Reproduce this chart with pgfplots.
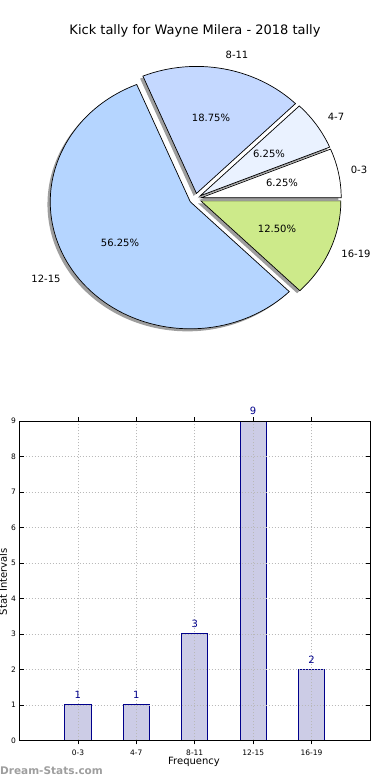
\documentclass[border=0pt]{standalone}
\usepackage{pgfplots}
\pgfplotsset{compat=1.18}
\usepackage{fontspec}
\setmainfont{DejaVu Sans}
\definecolor{pieB}{HTML}{EAF2FF}
\definecolor{pieC}{HTML}{C4D8FF}
\definecolor{pieD}{HTML}{B5D5FF}
\definecolor{pieE}{HTML}{CDEA8A}
\definecolor{barfill}{HTML}{CCCCE6}
\definecolor{baredge}{HTML}{00008B}
\definecolor{wm}{HTML}{9E9E9E}
% total count = 16 ; slice given by cumulative counts (from, to)
\newcommand{\pieshadow}[2]{%
  \pgfmathsetmacro\pa{22.5*#1}\pgfmathsetmacro\pb{22.5*#2}%
  \pgfmathsetmacro\pmid{(\pa+\pb)/2}%
  \pgfmathsetmacro\pox{0.043*cos(\pmid)-0.02}%
  \pgfmathsetmacro\poy{0.043*sin(\pmid)-0.02}%
  \edef\temp{\noexpand\fill[black!38] (axis cs:\pox,\poy) -- ++(\pa:140bp and 127bp) arc[start angle=\pa, end angle=\pb, x radius=140bp, y radius=127bp] -- cycle;}%
  \temp}
\newcommand{\pieslice}[3]{%
  \pgfmathsetmacro\pa{22.5*#1}\pgfmathsetmacro\pb{22.5*#2}%
  \pgfmathsetmacro\pmid{(\pa+\pb)/2}%
  \pgfmathsetmacro\pox{0.043*cos(\pmid)}%
  \pgfmathsetmacro\poy{0.043*sin(\pmid)}%
  \edef\temp{\noexpand\filldraw[fill=#3, draw=black, line width=0.7bp, line join=miter] (axis cs:\pox,\poy) -- ++(\pa:140bp and 127bp) arc[start angle=\pa, end angle=\pb, x radius=140bp, y radius=127bp] -- cycle;}%
  \temp}
\begin{document}
\begin{tikzpicture}
\useasboundingbox (0,0) rectangle (390bp,-780bp);
% ---------------- pie ----------------
\begin{axis}[at={(0bp,-380bp)}, anchor=south west, hide axis, clip=false,
  x=140bp, y=127bp, xmin=-1.395, xmax=1.391, ymin=-1.427, ymax=1.565]
\pieshadow{0}{1}
\pieshadow{1}{2}
\pieshadow{2}{5}
\pieshadow{5}{14}
\pieshadow{14}{16}
\pieslice{0}{1}{white}
\pieslice{1}{2}{pieB}
\pieslice{2}{5}{pieC}
\pieslice{5}{14}{pieD}
\pieslice{14}{16}{pieE}
\end{axis}
\node[font=\fontsize{13bp}{15bp}\selectfont, anchor=base] at (195bp,-34.3bp) {Kick tally for Wayne Milera - 2018 tally};
\begin{scope}[every node/.style={font=\fontsize{10bp}{12bp}\selectfont, inner sep=0pt}]
\node at (237bp,-55bp) {8-11};
\node at (336bp,-117bp) {4-7};
\node at (359bp,-170bp) {0-3};
\node at (356bp,-254bp) {16-19};
\node at (46bp,-278.5bp) {12-15};
\node at (211bp,-118bp) {18.75\%};
\node at (269bp,-153.5bp) {6.25\%};
\node at (282bp,-182.5bp) {6.25\%};
\node at (277bp,-229bp) {12.50\%};
\node at (120bp,-243bp) {56.25\%};
\end{scope}
% ---------------- bars ----------------
\begin{axis}[at={(19.5bp,-740.3bp)}, anchor=south west, scale only axis,
  width=350.5bp, height=319.3bp, xmin=-1, xmax=5, ymin=0, ymax=9,
  ybar, bar width=0.45, clip=false,
  xtick={0,1,2,3,4}, xticklabels={0-3,4-7,8-11,12-15,16-19},
  ytick={0,1,2,3,4,5,6,7,8,9},
  /pgf/number format/assume math mode=true,
  tick label style={font=\fontsize{7.5bp}{9bp}\selectfont},
  xticklabel style={yshift=-2bp},
  tick style={black, line width=0.6bp}, major tick length=4bp,
  axis line style={line width=0.8bp},
  grid=major, major grid style={gray!55, line width=0.6bp, dash pattern=on 1bp off 2bp},
  axis on top,
  xlabel={Frequency}, ylabel={Stat Intervals},
  label style={font=\fontsize{10bp}{12bp}\selectfont},
  xlabel style={at={(axis description cs:0.498,-0.0742)}, anchor=base},
  ylabel style={at={(axis description cs:-0.0357,0.497)}, anchor=base},
  nodes near coords,
  nodes near coords style={font=\fontsize{10bp}{12bp}\selectfont, text=baredge, yshift=2.5bp},
]
\addplot[fill=barfill, draw=baredge, line width=0.8bp] coordinates {(0,1) (1,1) (2,3) (3,9) (4,2)};
\end{axis}
\node[font=\bfseries\fontsize{10.5bp}{12bp}\selectfont, text=wm, anchor=base west, inner sep=0pt] at (0bp,-774bp) {Dream-Stats.com};
\end{tikzpicture}
\end{document}
